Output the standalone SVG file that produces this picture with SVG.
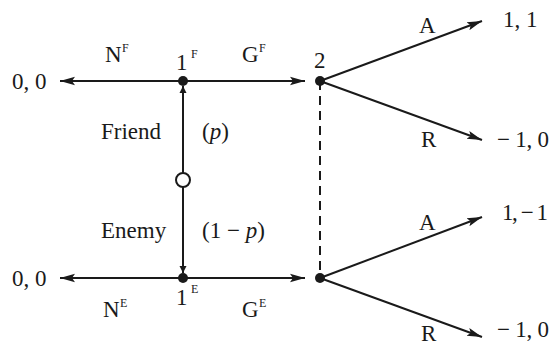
<svg xmlns="http://www.w3.org/2000/svg" width="553" height="347" viewBox="0 0 553 347">
<style>
.ln{stroke:#1a1a1a;stroke-width:2;fill:none}
.t{font-family:"Liberation Serif",serif;font-size:23px;fill:#1a1a1a}
.s{font-family:"Liberation Serif",serif;font-size:12px;fill:#1a1a1a}
.dot{fill:#1a1a1a}
</style>
<defs>
<marker id="ah" markerUnits="userSpaceOnUse" markerWidth="16" markerHeight="10" refX="15" refY="5" orient="auto">
<path d="M0,0.8 L15,5 L0,9.2 L3,5 Z" fill="#1a1a1a"/>
</marker>
<marker id="sh" markerUnits="userSpaceOnUse" markerWidth="8" markerHeight="8" refX="7" refY="4" orient="auto">
<path d="M0,0.5 L7,4 L0,7.5 Z" fill="#1a1a1a"/>
</marker>
</defs>
<g id="connectors">
<line class="ln" x1="183" y1="81" x2="60" y2="81" marker-end="url(#ah)"/>
<line class="ln" x1="183" y1="81" x2="305" y2="81" marker-end="url(#ah)"/>
<line class="ln" x1="183" y1="278" x2="60" y2="278" marker-end="url(#ah)"/>
<line class="ln" x1="183" y1="278" x2="305" y2="278" marker-end="url(#ah)"/>
<line class="ln" x1="183" y1="173" x2="183" y2="86" marker-end="url(#sh)"/>
<line class="ln" x1="183" y1="187" x2="183" y2="273" marker-end="url(#sh)"/>
<line class="ln" x1="320" y1="81" x2="482" y2="21" marker-end="url(#ah)"/>
<line class="ln" x1="320" y1="81" x2="482" y2="140" marker-end="url(#ah)"/>
<line class="ln" x1="320" y1="278" x2="482" y2="217" marker-end="url(#ah)"/>
<line class="ln" x1="320" y1="278" x2="482" y2="337" marker-end="url(#ah)"/>
<line class="ln" x1="320" y1="81" x2="320" y2="278" stroke-dasharray="9,6"/>
</g>
<g id="chance">
<circle cx="183" cy="180" r="7" fill="#fff" stroke="#1a1a1a" stroke-width="2"/>
<text class="t" x="101" y="139">Friend</text>
<text class="t" x="202" y="139">(<tspan font-style="italic">p</tspan>)</text>
<text class="t" x="101" y="238">Enemy</text>
<text class="t" x="202" y="238">(1 − <tspan font-style="italic">p</tspan>)</text>
</g>
<g id="node-1F">
<circle class="dot" cx="183" cy="81" r="5"/>
<text class="t" x="176" y="70">1</text><text class="s" x="191" y="58">F</text>
</g>
<g id="node-1E">
<circle class="dot" cx="183" cy="278" r="5"/>
<text class="t" x="176" y="305">1</text><text class="s" x="191" y="293">E</text>
</g>
<g id="node-2top">
<circle class="dot" cx="320" cy="81" r="5"/>
<text class="t" x="314" y="68">2</text>
</g>
<g id="node-2bot">
<circle class="dot" cx="320" cy="278" r="5"/>
</g>
<g id="labels">
<text class="t" x="12" y="89">0, 0</text>
<text class="t" x="12" y="286">0, 0</text>
<text class="t" x="105" y="62">N</text><text class="s" x="122" y="52">F</text>
<text class="t" x="242" y="62">G</text><text class="s" x="259" y="52">F</text>
<text class="t" x="103" y="317">N</text><text class="s" x="120" y="307">E</text>
<text class="t" x="242" y="317">G</text><text class="s" x="259" y="307">E</text>
<text class="t" x="419" y="33">A</text>
<text class="t" x="421" y="147">R</text>
<text class="t" x="419" y="230">A</text>
<text class="t" x="421" y="341">R</text>
<text class="t" x="503" y="27">1, 1</text>
<text class="t" x="497" y="147" textLength="52" lengthAdjust="spacing">− 1, 0</text>
<text class="t" x="502" y="220" textLength="46" lengthAdjust="spacing">1, − 1</text>
<text class="t" x="497" y="337" textLength="52" lengthAdjust="spacing">− 1, 0</text>
</g>
</svg>
